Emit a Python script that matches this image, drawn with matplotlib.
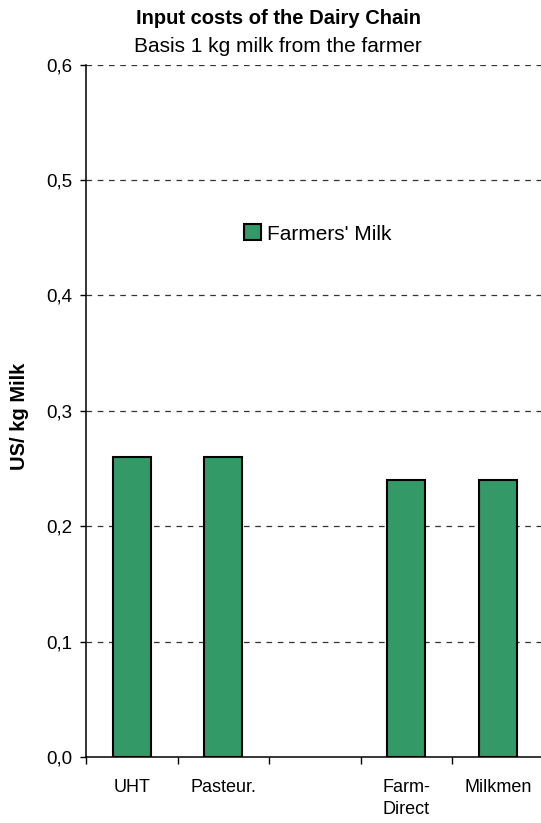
import matplotlib
matplotlib.use("Agg")
import matplotlib.pyplot as plt
from matplotlib.ticker import FixedLocator, FuncFormatter
import numpy as np

categorias = ["UHT", "Pasteur.", "", "Farm-\nDirect", "Milkmen"]
leite_produtor = [0.26, 0.26, 0.0, 0.24, 0.24]
ticks_y = [0.0, 0.1, 0.2, 0.3, 0.4, 0.5, 0.6]

plt.rcParams["font.family"] = ["Liberation Sans", "DejaVu Sans"]

fig = plt.figure(figsize=(5.41, 8.23), dpi=100)
ax = fig.add_axes([86 / 541, 66 / 823, 457.5 / 541, 692.3 / 823])

x = np.arange(len(categorias))
valores = [v if v > 0 else np.nan for v in leite_produtor]
ax.bar(x, valores, width=0.42, color="#339966", edgecolor="black",
       linewidth=1.5, label="Farmers' Milk", zorder=3)

ax.set_xlim(-0.5, len(categorias) - 0.5)
ax.set_ylim(0, 0.6)

# linhas de grade tracejadas
for t in ticks_y[1:]:
    ax.axhline(t, color="#333333", linewidth=0.9, dashes=(4.5, 4.5), zorder=1)

ax.yaxis.set_major_locator(FixedLocator(ticks_y))
ax.yaxis.set_major_formatter(FuncFormatter(lambda v, p: f"{v:.1f}".replace(".", ",")))
ax.tick_params(axis="y", length=4, width=1, pad=6, labelsize=13.5)

# ticks nas fronteiras, rótulos no centro (estilo Excel)
ax.xaxis.set_major_locator(FixedLocator(np.arange(-0.5, len(categorias), 1.0)))
ax.xaxis.set_major_formatter(FuncFormatter(lambda v, p: ""))
ax.xaxis.set_minor_locator(FixedLocator(x))
ax.set_xticklabels(categorias, minor=True)
ax.tick_params(axis="x", which="major", length=5, width=1)
ax.tick_params(axis="x", which="minor", length=0, pad=15.5, labelsize=13)
for lbl in ax.get_xticklabels(minor=True):
    lbl.set_linespacing(1.45)

for s in ["top", "right"]:
    ax.spines[s].set_visible(False)
ax.spines["left"].set_linewidth(1.1)
ax.spines["bottom"].set_linewidth(1.1)

ax.set_ylabel("US/ kg Milk", fontsize=14.5, fontweight="bold")
ax.yaxis.set_label_coords(-0.125, 0.4926)

fig.text(279 / 541, 1 - 19 / 823, "Input costs of the Dairy Chain",
         ha="center", va="center", fontsize=14.5, fontweight="bold")
fig.text(278 / 541, 1 - 46 / 823, "Basis 1 kg milk from the farmer",
         ha="center", va="center", fontsize=15)

fig.legend(loc="center left", bbox_to_anchor=(244 / 541, 1 - 234 / 823),
           frameon=False, fontsize=15, handlelength=0.8, handleheight=0.8,
           handletextpad=0.3, borderpad=0, borderaxespad=0)

fig.savefig("out.png", dpi=100)
